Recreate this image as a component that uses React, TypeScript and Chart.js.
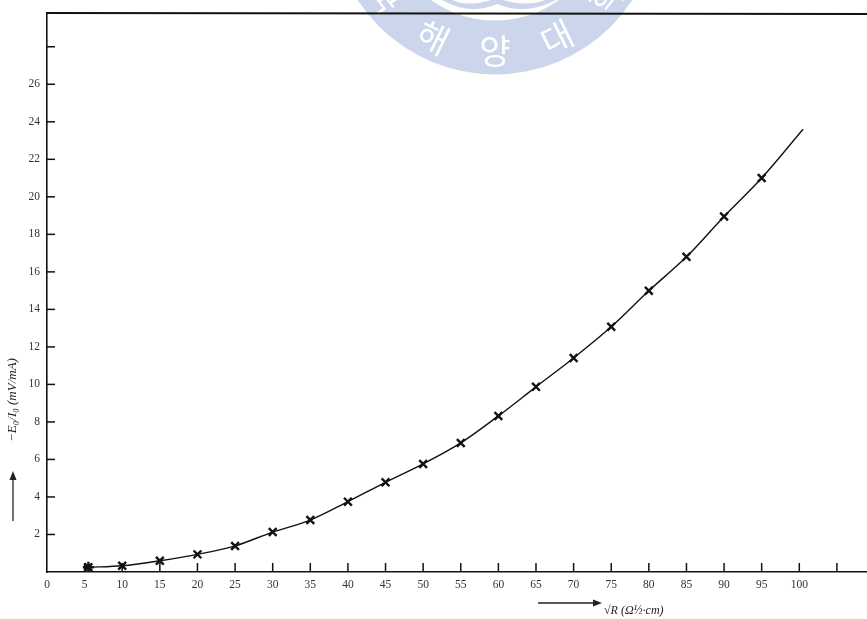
import React, { useEffect, useRef } from "react";
import { Chart, registerables } from "chart.js";

Chart.register(...registerables);

// ---- data ----
const sqrtR = [5.5, 10, 15, 20, 25, 30, 35, 40, 45, 50, 55, 60, 65, 70, 75, 80, 85, 90, 95, 100.5];
const ratio = [0.25, 0.33, 0.6, 0.94, 1.39, 2.13, 2.77, 3.75, 4.78, 5.76, 6.88, 8.32, 9.87, 11.41, 13.07, 14.99, 16.8, 18.95, 21.0, 23.6];
const measured = [true, true, true, true, true, true, true, true, true, true, true, true, true, true, true, true, true, true, true, false];
const xTickValues = [5, 10, 15, 20, 25, 30, 35, 40, 45, 50, 55, 60, 65, 70, 75, 80, 85, 90, 95, 100, 105];
const xTickLabels = ["0", "5", "10", "15", "20", "25", "30", "35", "40", "45", "50", "55", "60", "65", "70", "75", "80", "85", "90", "95", "100"];
const yTickValues = [0, 2, 4, 6, 8, 10, 12, 14, 16, 18, 20, 22, 24, 26, 28];
const yTickLabels = ["2", "4", "6", "8", "10", "12", "14", "16", "18", "20", "22", "24", "26"];
const xTitle = "√R (Ω½·cm)";
const yTitle = "−E₀/I₀ (mV/mA)";
const watermarkChars = ["한", "국", "해", "양", "대", "학", "교"];

const X_MAX = 109;
const Y_MAX = 29.8;

const decorPlugin = {
  id: "decor",
  beforeDraw(chart: any) {
    const ctx = chart.ctx;
    // faint university watermark
    const cx = 495;
    const cy = -89.5;
    const rOut = 164;
    const rIn = 110;
    ctx.save();
    ctx.fillStyle = "#ffffff";
    ctx.fillRect(0, 0, chart.width, chart.height);
    ctx.beginPath();
    ctx.arc(cx, cy, rOut, 0, Math.PI * 2);
    ctx.arc(cx, cy, rIn, 0, Math.PI * 2, true);
    ctx.fillStyle = "#cbd6ec";
    ctx.fill("evenodd");
    // emblem inside
    ctx.beginPath();
    ctx.moveTo(442, 0);
    ctx.quadraticCurveTo(470, 16, 497, 4);
    ctx.quadraticCurveTo(525, 16, 556, 0);
    ctx.lineTo(545, 0);
    ctx.quadraticCurveTo(525, 8, 497, -2);
    ctx.quadraticCurveTo(470, 8, 452, 0);
    ctx.closePath();
    ctx.fill();
    ctx.fillStyle = "#ffffff";
    ctx.font = "34px 'Noto Sans CJK KR'";
    ctx.textAlign = "center";
    ctx.textBaseline = "middle";
    const step = (26 * Math.PI) / 180;
    watermarkChars.forEach((ch, i) => {
      const a = (i - 3) * step;
      const r = 141;
      const px = cx + r * Math.sin(a);
      const py = cy + r * Math.cos(a);
      ctx.save();
      ctx.translate(px, py);
      ctx.rotate(-a);
      ctx.fillText(ch, 0, 0);
      ctx.restore();
    });
    ctx.restore();
  },
  afterDraw(chart: any) {
    const ctx = chart.ctx;
    const area = chart.chartArea;
    const xs = chart.scales.x;
    const ys = chart.scales.y;
    ctx.save();
    ctx.strokeStyle = "#111";
    ctx.lineWidth = 1.8;
    // top frame line
    ctx.beginPath();
    ctx.moveTo(area.left, area.top);
    ctx.lineTo(area.right, area.top + 1);
    ctx.stroke();
    // inward ticks
    ctx.lineWidth = 1.5;
    xTickValues.forEach((v) => {
      const px = xs.getPixelForValue(v);
      ctx.beginPath();
      ctx.moveTo(px, area.bottom);
      ctx.lineTo(px, area.bottom - 9);
      ctx.stroke();
    });
    yTickValues.forEach((v) => {
      if (v === 0) return;
      const py = ys.getPixelForValue(v);
      ctx.beginPath();
      ctx.moveTo(area.left, py);
      ctx.lineTo(area.left + 8, py);
      ctx.stroke();
    });
    // x axis title with arrow
    ctx.fillStyle = "#222";
    ctx.strokeStyle = "#222";
    ctx.lineWidth = 1.3;
    ctx.beginPath();
    ctx.moveTo(538, 603);
    ctx.lineTo(596, 603);
    ctx.stroke();
    ctx.beginPath();
    ctx.moveTo(602, 603);
    ctx.lineTo(593, 599.5);
    ctx.lineTo(593, 606.5);
    ctx.closePath();
    ctx.fill();
    ctx.font = "italic 12px 'Liberation Serif'";
    ctx.textAlign = "left";
    ctx.textBaseline = "middle";
    ctx.fillText(xTitle, 604, 611);
    // y axis title with arrow
    ctx.save();
    ctx.translate(13, 0);
    ctx.beginPath();
    ctx.moveTo(0, 521);
    ctx.lineTo(0, 478);
    ctx.stroke();
    ctx.beginPath();
    ctx.moveTo(0, 471);
    ctx.lineTo(-3.5, 480);
    ctx.lineTo(3.5, 480);
    ctx.closePath();
    ctx.fill();
    ctx.translate(0, 400);
    ctx.rotate(-Math.PI / 2);
    ctx.font = "italic 13px 'Liberation Serif'";
    ctx.textAlign = "center";
    ctx.fillText(yTitle, 0, 0);
    ctx.restore();
    ctx.restore();
  },
};

export default function App() {
  const ref = useRef<HTMLCanvasElement | null>(null);

  useEffect(() => {
    if (!ref.current) return;
    const points = sqrtR.map((x, i) => ({ x, y: ratio[i] }));
    const chart = new Chart(ref.current, {
      type: "line",
      data: {
        datasets: [
          {
            data: points,
            borderColor: "#111",
            borderWidth: 1.4,
            backgroundColor: "#111",
            pointBorderColor: "#111",
            pointBackgroundColor: "#111",
            pointStyle: measured.map((m, i) => (i === 0 ? "star" : "crossRot")) as any,
            pointRadius: measured.map((m) => (m ? 5.5 : 0)),
            pointBorderWidth: 2.4,
            cubicInterpolationMode: "monotone",
            fill: false,
          },
        ],
      },
      options: {
        animation: false,
        responsive: false,
        maintainAspectRatio: false,
        layout: { autoPadding: false, padding: { top: 13, right: 0, left: 0, bottom: 0 } },
        plugins: { legend: { display: false }, tooltip: { enabled: false } },
        scales: {
          x: {
            type: "linear",
            min: 0,
            max: X_MAX,
            afterBuildTicks: (scale: any) => {
              scale.ticks = [0, ...xTickValues].map((v) => ({ value: v }));
            },
            afterFit: (scale: any) => {
              scale.height = 47;
              scale.paddingLeft = 0;
              scale.paddingRight = 0;
            },
            grid: { display: false, drawTicks: false },
            border: { display: true, color: "#111", width: 1.6 },
            ticks: {
              padding: 6,
              maxRotation: 0,
              autoSkip: false,
              color: "#333",
              font: { family: "'Liberation Serif'", size: 11.5 },
              callback: (v: any) => (xTickLabels.includes(String(v)) ? String(v) : ""),
            },
          },
          y: {
            type: "linear",
            min: 0,
            max: Y_MAX,
            afterBuildTicks: (scale: any) => {
              scale.ticks = yTickValues.map((v) => ({ value: v }));
            },
            afterFit: (scale: any) => {
              scale.width = 47;
              scale.paddingTop = 0;
              scale.paddingBottom = 0;
            },
            grid: { display: false, drawTicks: false },
            border: { display: true, color: "#111", width: 1.6 },
            ticks: {
              padding: 7,
              autoSkip: false,
              color: "#333",
              font: { family: "'Liberation Serif'", size: 11.5 },
              callback: (v: any) => (yTickLabels.includes(String(v)) ? String(v) : ""),
            },
          },
        },
      },
      plugins: [decorPlugin],
    });
    return () => chart.destroy();
  }, []);

  return (
    <div style={{ position: "absolute", left: 0, top: 0, width: 867, height: 619, background: "#fff" }}>
      <canvas ref={ref} width={867} height={619} style={{ display: "block", width: 867, height: 619 }} />
    </div>
  );
}
